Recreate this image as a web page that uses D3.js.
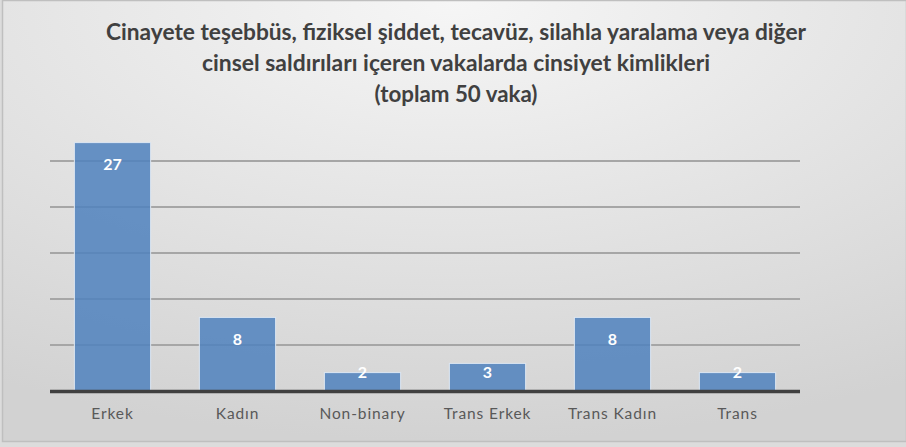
<!DOCTYPE html>
<html><head><meta charset="utf-8">
<script src="https://cdn.jsdelivr.net/npm/d3@7"></script>
<style>
html,body{margin:0;padding:0;background:#dcdcdc;}
svg{display:block;}
</style></head>
<body>
<script>
const categories = ["Erkek","Kadın","Non-binary","Trans Erkek","Trans Kadın","Trans"];
const values = [27, 8, 2, 3, 8, 2];
const gridTicks = [5, 10, 15, 20, 25];
const titleLines = ["Cinayete teşebbüs,  fiziksel şiddet, tecavüz, silahla yaralama veya diğer",
                    "cinsel saldırıları içeren vakalarda cinsiyet kimlikleri",
                    "(toplam 50 vaka)"];

const W = 906, H = 447;
const svg = d3.select("body").append("svg").attr("width", W).attr("height", H);
const defs = svg.append("defs");
const rg = defs.append("radialGradient").attr("id","bg")
  .attr("cx","50%").attr("cy","0%").attr("r","100%").attr("fx","50%").attr("fy","0%");
rg.append("stop").attr("offset","0%").attr("stop-color","#f6f6f6");
rg.append("stop").attr("offset","100%").attr("stop-color","#d2d2d2");

svg.append("rect").attr("x",2.5).attr("y",0.5).attr("width",W-2).attr("height",441)
  .attr("fill","url(#bg)").attr("stroke","#bfbfbf").attr("stroke-width",1.5);

const x = d3.scaleBand().domain(categories).range([50, 800]).paddingInner(0.39).paddingOuter(0.195);
const y = d3.scaleLinear().domain([0, 30]).range([391, 115]);

// gridlines
svg.append("g").selectAll("line").data(gridTicks).join("line")
  .attr("x1",50).attr("x2",800).attr("y1",d=>y(d)).attr("y2",d=>y(d))
  .attr("stroke","#a6a6a6").attr("stroke-width",2);

// bars
svg.append("g").selectAll("rect").data(values).join("rect")
  .attr("x",(d,i)=>x(categories[i])).attr("width",x.bandwidth())
  .attr("y",d=>y(d)).attr("height",d=>y(0)-y(d))
  .attr("fill","#4f81bd").attr("fill-opacity",0.85)
  .attr("stroke","#dce6f2").attr("stroke-width",1);

// baseline axis
const xAxis = d3.axisBottom(x).tickSize(0).tickPadding(0);
const ax = svg.append("g").attr("transform",`translate(0,${y(0)})`).call(xAxis);
ax.select(".domain").remove();
svg.append("line").attr("x1",50).attr("x2",800).attr("y1",y(0)+0.5).attr("y2",y(0)+0.5)
  .attr("stroke","#404040").attr("stroke-width",3.5);
ax.selectAll("text").attr("y",28).attr("dy",0)
  .attr("font-family","Lato, 'Open Sans', sans-serif").attr("font-size",15.5)
  .attr("letter-spacing","0.9px")
  .attr("fill","#595959");

// data labels
svg.append("g").selectAll("text").data(values).join("text")
  .attr("x",(d,i)=>x(categories[i])+x.bandwidth()/2)
  .attr("y",d=>Math.min(y(d)+22, y(0)-19))
  .attr("dy","0.36em")
  .attr("text-anchor","middle")
  .attr("font-family","Lato, 'Open Sans', sans-serif").attr("font-weight","bold").attr("font-size",16)
  .attr("fill","#ffffff")
  .text(d=>d);

// title
const tg = svg.append("g");
const titleY = [40, 71, 102];
const titleW = [700, 508, 163];
titleLines.forEach((t,i)=>{
  tg.append("text").attr("x",456).attr("y",titleY[i]).attr("text-anchor","middle")
    .attr("font-family","Lato, sans-serif").attr("font-weight","bold").attr("font-size",22)
    .attr("fill","#404040")
    .attr("textLength",titleW[i]).attr("lengthAdjust","spacingAndGlyphs")
    .text(t);
});
</script>
</body></html>
